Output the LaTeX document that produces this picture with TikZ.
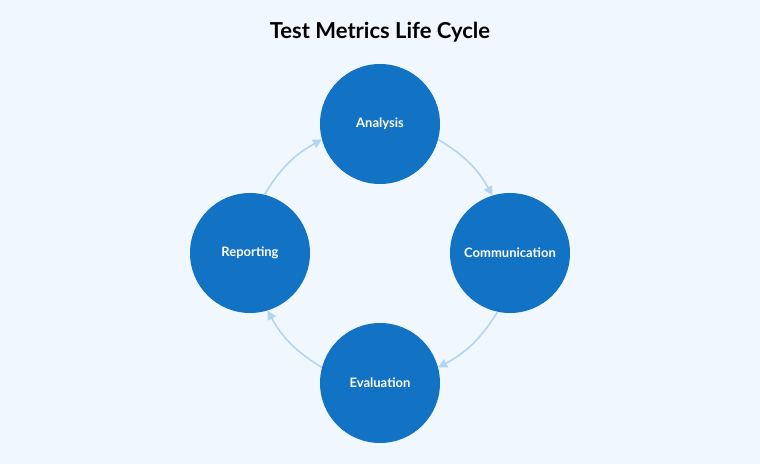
\documentclass[tikz,border=0pt]{standalone}
\usepackage{fontspec}
\setmainfont{Lato}
\usetikzlibrary{arrows.meta}
\definecolor{bgblue}{HTML}{F0F7FE}
\definecolor{stageblue}{HTML}{1272C4}
\definecolor{flowblue}{HTML}{B5D4EE}
\tikzset{
  stage/.style={circle,fill=stageblue,minimum size=120pt,inner sep=0pt,
    text=white,font=\fontsize{13}{15}\selectfont\bfseries},
  flow/.style={flowblue,line width=1.6pt,-{Triangle[length=9pt,width=9pt]},bend left=15}
}
\begin{document}
\begin{tikzpicture}[x=1pt,y=1pt]
    \fill[bgblue] (0,0) rectangle (760,464);
    \useasboundingbox (0,0) rectangle (760,464);
    \node[font=\fontsize{22}{26}\selectfont\bfseries] (title) at (380,432) {Test Metrics Life Cycle};

    \node[stage] (ana) at (380,340) {Analysis};
    \node[stage] (com) at (510,211) {Communication};
    \node[stage] (eva) at (380,81) {Evaluation};
    \node[stage] (rep) at (250,211) {Reporting};

    \draw[flow] (ana.-15) to (com.107);
    \draw[flow] (com.-102) to (eva.15);
    \draw[flow] (eva.165) to (rep.-73);
    \draw[flow] (rep.76) to (ana.195);
\end{tikzpicture}
\end{document}
